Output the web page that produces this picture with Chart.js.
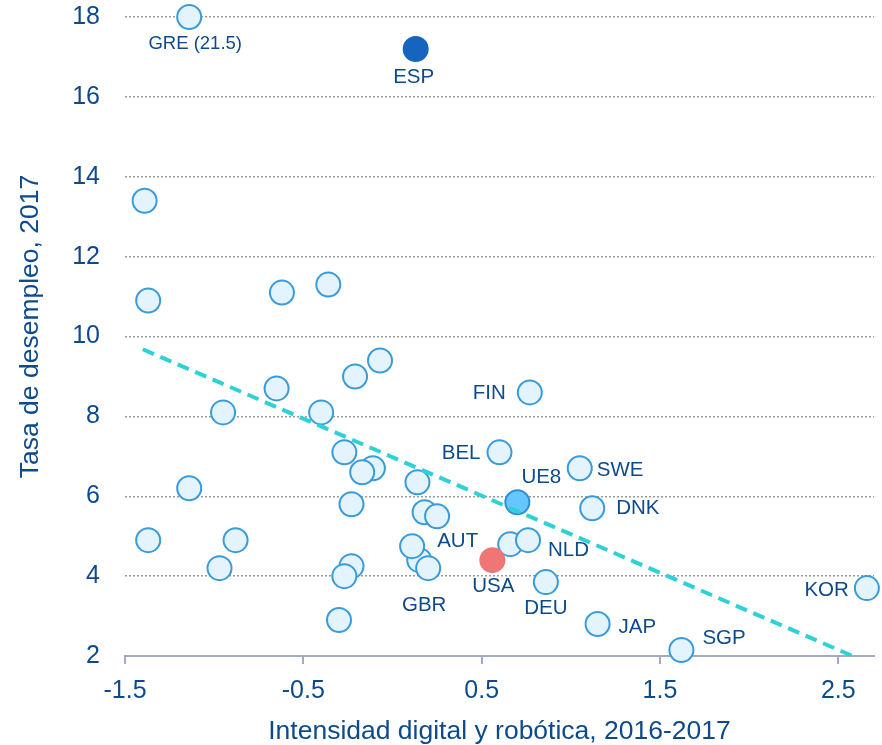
<!DOCTYPE html>
<html>
<head>
<meta charset="utf-8">
<script src="https://cdn.jsdelivr.net/npm/chart.js@4.4.1/dist/chart.umd.min.js"></script>
<style>
  html, body { margin: 0; padding: 0; background: #fff; }
  #wrap { width: 882px; height: 745px; }
</style>
</head>
<body>
<div id="wrap"><canvas id="chart" width="882" height="745"></canvas></div>
<script>
// País (vacío = sin etiqueta), intensidad digital y robótica, tasa de desempleo
const countries = [
    'GRE', 'ESP', '', '', '', '', '', '', '', '', '',
    'FIN', 'BEL', '', '', '', 'SWE', '', '', 'UE8', '', 'DNK', '', '',
    '', '', '', '', 'GBR', 'AUT', 'NLD', 'USA', '', '', '',
    'DEU', '', 'JAP', 'SGP', 'KOR',
];
const xValues = [
    -1.14, 0.13, -1.39, -1.37, -0.62, -0.36, -0.07, -0.21, -0.65, -0.95, -0.40,
    0.77, 0.60, -0.27, -0.11, -0.17, 1.05, 0.14, -1.14, 0.70, -0.23, 1.12, 0.18, 0.25,
    -1.37, -0.88, 0.15, 0.11, 0.20, 0.66, 0.76, 0.56, -0.97, -0.23, -0.27,
    0.86, -0.30, 1.15, 1.62, 2.66,
];
const yValues = [
    18.0, 17.2, 13.4, 10.9, 11.1, 11.3, 9.4, 9.0, 8.7, 8.1, 8.1,
    8.6, 7.1, 7.1, 6.7, 6.6, 6.7, 6.35, 6.2, 5.85, 5.8, 5.7, 5.6, 5.5,
    4.9, 4.9, 4.4, 4.75, 4.2, 4.8, 4.9, 4.4, 4.2, 4.25, 4.0,
    3.85, 2.9, 2.8, 2.15, 3.7,
];
const labelText = { GRE: 'GRE (21.5)' };

// Recta de tendencia
const trendX = [-1.40, 2.58];
const trendY = [9.68, 2.0];

const xTicks = [-1.5, -0.5, 0.5, 1.5, 2.5];
const yTicks = [2, 4, 6, 8, 10, 12, 14, 16, 18];

const TEXT = '#0d4a8c';
const FONT = "'Liberation Sans', Arial, sans-serif";

const fills = { ESP: '#1565c0', UE8: '#66c7ff', USA: '#f07676' };
const borders = { ESP: '#1565c0', UE8: '#2e8fd6', USA: '#f07676' };

// colocación de las etiquetas respecto al punto (px)
const labelPos = {
    GRE: { dx: 6, dy: 27, align: 'center', size: 18.5 },
    ESP: { dx: -2, dy: 28, align: 'center' },
    FIN: { dx: -24, dy: 1, align: 'right' },
    BEL: { dx: -19, dy: 1, align: 'right' },
    UE8: { dx: 24, dy: -25, align: 'center' },
    SWE: { dx: 17, dy: 2, align: 'left' },
    DNK: { dx: 24, dy: 0, align: 'left' },
    AUT: { dx: -32, dy: -3, align: 'right' },
    NLD: { dx: 20, dy: 10, align: 'left' },
    USA: { dx: 1, dy: 26, align: 'center' },
    GBR: { dx: -4, dy: 37, align: 'center' },
    DEU: { dx: 0, dy: 26, align: 'center' },
    JAP: { dx: 21, dy: 3, align: 'left' },
    SGP: { dx: 21, dy: -12, align: 'left' },
    KOR: { dx: -18, dy: 2, align: 'right' },
};

const pointLabels = {
    id: 'pointLabels',
    afterDatasetsDraw(chart) {
        const meta = chart.getDatasetMeta(1);
        const ctx = chart.ctx;
        ctx.save();
        ctx.fillStyle = TEXT;
        ctx.textBaseline = 'middle';
        countries.forEach((code, i) => {
            if (!code) return;
            const p = labelPos[code];
            const el = meta.data[i];
            ctx.font = (p.size || 20.5) + 'px ' + FONT;
            ctx.textAlign = p.align;
            ctx.fillText(labelText[code] || code, el.x + p.dx, el.y + p.dy);
        });
        ctx.restore();
    },
};

// el título del eje Y va algo por encima del centro del área
const yTitle = {
    id: 'yTitle',
    afterDraw(chart) {
        const { ctx, chartArea } = chart;
        ctx.save();
        ctx.translate(31, (chartArea.top + chartArea.bottom) / 2 - 10);
        ctx.rotate(-Math.PI / 2);
        ctx.fillStyle = TEXT;
        ctx.font = '26.5px ' + FONT;
        ctx.textAlign = 'center';
        ctx.textBaseline = 'middle';
        ctx.fillText('Tasa de desempleo, 2017', 0, 0);
        ctx.restore();
    },
};

new Chart(document.getElementById('chart'), {
    type: 'scatter',
    data: {
        datasets: [
            {
                type: 'line',
                data: trendX.map((x, i) => ({ x, y: trendY[i] })),
                borderColor: '#2dd1d6',
                borderWidth: 4,
                borderDash: [12, 7],
                pointRadius: 0,
                fill: false,
                order: 0,
            },
            {
                data: xValues.map((x, i) => ({ x, y: yValues[i] })),
                pointRadius: 12,
                pointBorderWidth: 2,
                pointBackgroundColor: countries.map(c => fills[c] || '#e3f4fe'),
                pointBorderColor: countries.map(c => borders[c] || '#3a9bdb'),
                clip: false,
                order: 1,
            },
        ],
    },
    options: {
        responsive: false,
        animation: false,
        layout: { autoPadding: false, padding: { top: 17, right: 8, left: 0, bottom: 0 } },
        plugins: { legend: { display: false }, tooltip: { enabled: false } },
        scales: {
            x: {
                type: 'linear',
                min: -1.5,
                max: 2.7,
                afterBuildTicks: (axis) => { axis.ticks = xTicks.map(v => ({ value: v })); },
                afterFit: (axis) => { axis.height = 89; },
                ticks: {
                    color: TEXT,
                    font: { family: FONT, size: 25 },
                    padding: 12,
                    callback: (v) => String(v),
                },
                grid: {
                    drawOnChartArea: false,
                    drawTicks: true,
                    tickLength: 8,
                    color: '#a3abc3',
                    lineWidth: 2,
                },
                border: { display: true, color: '#a3abc3', width: 2 },
                title: {
                    display: true,
                    text: 'Intensidad digital y robótica, 2016-2017',
                    color: TEXT,
                    font: { family: FONT, size: 26.5 },
                    padding: { top: 0, bottom: -3 },
                },
            },
            y: {
                min: 2,
                max: 18,
                afterBuildTicks: (axis) => { axis.ticks = yTicks.map(v => ({ value: v })); },
                afterFit: (axis) => {
                    axis.width = 125;
                    axis.paddingTop = 0;
                    axis.paddingBottom = 0;
                },
                ticks: {
                    color: TEXT,
                    font: { family: FONT, size: 25 },
                    padding: 25,
                },
                grid: {
                    drawTicks: false,
                    color: '#9a9a9a',
                    lineWidth: 1.5,
                },
                border: { display: false, dash: [2, 2] },
                title: { display: false },
            },
        },
    },
    plugins: [pointLabels, yTitle],
});
</script>
</body>
</html>
